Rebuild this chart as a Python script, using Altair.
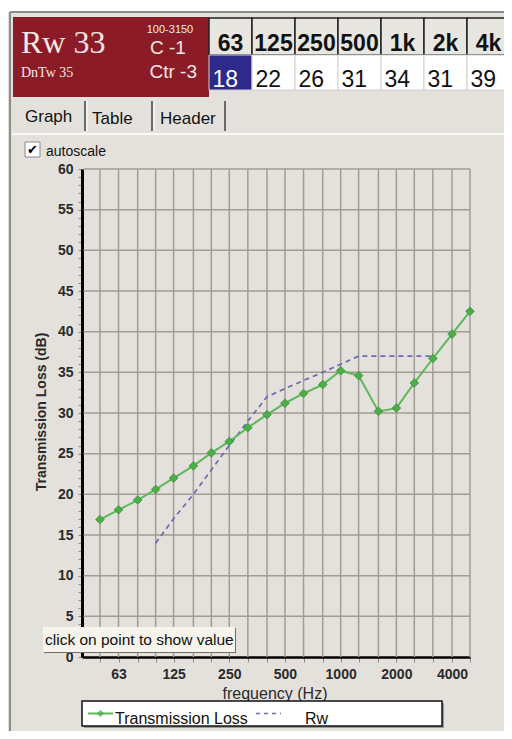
import altair as alt
import pandas as pd

# ---------------- data ----------------
freqs = [50, 63, 80, 100, 125, 160, 200, 250, 315, 400, 500, 630, 800,
         1000, 1250, 1600, 2000, 2500, 3150, 4000, 5000]
tl_values = [16.9, 18.1, 19.3, 20.6, 22.0, 23.5, 25.1, 26.5, 28.2, 29.8, 31.2,
             32.4, 33.5, 35.2, 34.6, 30.2, 30.6, 33.7, 36.7, 39.7, 42.5]
rw_freqs = [100, 125, 160, 200, 250, 315, 400, 500, 630, 800, 1000, 1250,
            1600, 2000, 2500, 3150]
rw_values = [14, 17, 20, 23, 26, 29, 32, 33, 34, 35, 36, 37, 37, 37, 37, 37]
x_tick_labels = [63, 125, 250, 500, 1000, 2000, 4000]
y_grid = [5, 10, 15, 20, 25, 30, 35, 40, 45, 50, 55, 60]
y_minor = list(range(0, 61))
oct_bands = ["63", "125", "250", "500", "1k", "2k", "4k"]
oct_values = [18, 22, 26, 31, 34, 31, 39]
series_names = ["Transmission Loss", "Rw"]

# ---------------- layout constants ----------------
W, H = 388, 488
OX, OY = 82, 169          # page position of plot origin
BG = "#e4e1dc"
SANS = "Liberation Sans"
SERIF = "Liberation Serif"
TL_COLOR = "#5cb85a"
RW_COLOR = "#6a6ab4"

one = pd.DataFrame({"k": [0]})


def box(x1, y1, x2, y2, **kw):
    return alt.Chart(one).mark_rect(**kw).encode(
        x=alt.value(x1 - OX), x2=alt.value(x2 - OX),
        y=alt.value(y1 - OY), y2=alt.value(y2 - OY))


def line(x1, y1, x2, y2, color="#000", width=1, dash=None):
    kw = dict(color=color, strokeWidth=width)
    if dash:
        kw["strokeDash"] = dash
    return alt.Chart(one).mark_rule(**kw).encode(
        x=alt.value(x1 - OX), x2=alt.value(x2 - OX),
        y=alt.value(y1 - OY), y2=alt.value(y2 - OY))


def label(text, x, y, size=14, font=SANS, color="#111", weight="normal",
          align="left", baseline="alphabetic", angle=0):
    kw = dict(text=text, fontSize=size, font=font, color=color,
              fontWeight=weight, align=align, baseline=baseline)
    if angle:
        kw["angle"] = angle
    return alt.Chart(one).mark_text(**kw).encode(
        x=alt.value(x - OX), y=alt.value(y - OY))


# ---------------- decorations ----------------
deco = [
    box(0, 8, 520, 12, color="white"),
    line(10, 12, 512, 12, color="#8c8c8c", width=2),
    line(10, 12, 10, 739, color="#8c8c8c", width=2),
    box(13, 17, 209, 97, color="#8c1b28"),
    label("Rw 33", 21, 53, size=32, font=SERIF, color="#f4e8e4"),
    label("DnTw 35", 21, 77, size=14, font=SERIF, color="#f4e8e4"),
    label("100-3150", 170, 33, size=11, color="#f4e8e4", align="center"),
    label("C -1", 150, 54, size=19, color="#f4e8e4"),
    label("Ctr -3", 197, 78, size=19, color="#f4e8e4", align="right"),
    # tabs
    line(85, 101, 85, 131, color="#6a6a6a", width=2),
    line(152, 101, 152, 131, color="#6a6a6a", width=2),
    line(225, 101, 225, 131, color="#6a6a6a", width=2),
    line(87, 101, 87, 131, color="#ffffff", width=1),
    line(154, 101, 154, 131, color="#ffffff", width=1),
    line(12, 134, 512, 134, color="#ffffff", width=1.5),
    label("Graph", 25, 122, size=17),
    label("Table", 92, 124, size=17),
    label("Header", 160, 124, size=17),
    # checkbox
    box(25, 142, 40, 157, color="white", stroke="#8a8a8a", strokeWidth=1),
    label("✔", 32.5, 150, size=13, font="DejaVu Sans", color="#000",
          align="center", baseline="middle"),
    label("autoscale", 46, 156, size=14),
]

# ---------------- octave table ----------------
tab = pd.DataFrame({"idx": list(range(len(oct_bands))),
                    "band": oct_bands, "val": oct_values})
tscale = alt.Scale(domain=[-0.5, 6.5], range=[127, 428])
tbase = alt.Chart(tab).transform_calculate(lo="datum.idx - 0.5",
                                           hi="datum.idx + 0.5")
head_cells = tbase.mark_rect(fill="#e8e6e1", stroke="#222",
                             strokeWidth=1.5).encode(
    x=alt.X("lo:Q", scale=tscale, axis=None),
    x2="hi:Q", y=alt.value(18 - OY), y2=alt.value(55 - OY))
val_cells = tbase.mark_rect(stroke="#d0d0d0", strokeWidth=1).encode(
    x=alt.X("lo:Q", scale=tscale, axis=None),
    x2="hi:Q", y=alt.value(55 - OY), y2=alt.value(90 - OY),
    fill=alt.condition(alt.datum.idx == 0, alt.value("#2d2a8c"),
                       alt.value("white")))
head_text = alt.Chart(tab).mark_text(font=SANS, fontSize=23, fontWeight="bold",
                                     align="center", color="#111").encode(
    x=alt.X("idx:Q", scale=tscale, axis=None), y=alt.value(44 - OY),
    text="band:N")
val_text = alt.Chart(tab).mark_text(font=SANS, fontSize=23, align="left",
                                    dx=-18).encode(
    x=alt.X("idx:Q", scale=tscale, axis=None), y=alt.value(80 - OY),
    text="val:Q",
    color=alt.condition(alt.datum.idx == 0, alt.value("white"),
                        alt.value("#111")))
table = alt.layer(head_cells, val_cells, head_text, val_text)

# ---------------- main graph ----------------
xscale = alt.Scale(type="log", domain=[40, 5000])
yscale = alt.Scale(domain=[0, 60])
lab_list = ",".join(str(v) for v in x_tick_labels)

x_axis = alt.Axis(values=freqs, labelExpr=(
    f"indexof([{lab_list}], datum.value) >= 0 ? format(datum.value, 'd') : ''"),
    title=None, grid=False, tickSize=5, tickColor="#8a8a8a", tickWidth=1,
    domainColor="#000", domainWidth=2.5, labelFont=SANS, labelFontSize=14,
    labelFontWeight="bold", labelColor="#2a2a2a", labelPadding=5,
    labelOverlap=False, labelFlush=False)
y_axis = alt.Axis(values=y_minor,
                  labelExpr="datum.value % 5 == 0 ? datum.label : ''",
                  title=None, grid=False, tickSize=4, tickColor="#8a8a8a",
                  tickWidth=1, domainColor="#000", domainWidth=3,
                  labelFont=SANS, labelFontSize=14, labelFontWeight="bold",
                  labelColor="#2a2a2a", labelPadding=5, labelOverlap=False,
                  labelFlush=False)

vgrid = alt.Chart(pd.DataFrame({"f": freqs})).mark_rule(
    color="#a29c96", strokeWidth=1.5).encode(
    x=alt.X("f:Q", scale=xscale, axis=x_axis),
    y=alt.value(0), y2=alt.value(H))
hgrid = alt.Chart(pd.DataFrame({"v": y_grid})).mark_rule(
    color="#a29c96", strokeWidth=1.5).encode(
    y=alt.Y("v:Q", scale=yscale, axis=y_axis),
    x=alt.value(1.5), x2=alt.value(W))

tl_df = pd.DataFrame({"f": freqs, "v": tl_values, "s": series_names[0]})
rw_df = pd.DataFrame({"f": rw_freqs, "v": rw_values, "s": series_names[1]})

rw_line = alt.Chart(rw_df).mark_line(color=RW_COLOR, strokeWidth=1.7,
                                     strokeDash=[5, 4]).encode(
    x=alt.X("f:Q", scale=xscale, axis=x_axis),
    y=alt.Y("v:Q", scale=yscale, axis=y_axis))
tl_line = alt.Chart(tl_df).mark_line(
    color=TL_COLOR, strokeWidth=2,
    point=alt.OverlayMarkDef(shape="diamond", size=75, filled=True,
                             color="#4cae47", stroke="#3e8f3a",
                             strokeWidth=0.8)).encode(
    x=alt.X("f:Q", scale=xscale, axis=x_axis),
    y=alt.Y("v:Q", scale=yscale, axis=y_axis))

main = alt.layer(vgrid, hgrid, rw_line, tl_line)

# ---------------- titles, legend, tooltip ----------------
leg_df = pd.DataFrame({"s": series_names})
overlay = [
    label("Transmission Loss (dB)", 42, 412, size=14, weight="bold",
          align="center", baseline="middle", angle=270, color="#2a2a2a"),
    label("frequency (Hz)", 275, 699, size=16, align="center", color="#2a2a2a"),
    box(84, 703, 444, 728, color="#9a9a9a"),
    box(82, 701, 442, 726, fill="white", stroke="#111", strokeWidth=1.5),
    line(88, 713.5, 113, 713.5, color=TL_COLOR, width=2),
    alt.Chart(one).mark_point(shape="diamond", size=55, filled=True,
                              color="#4cae47").encode(
        x=alt.value(100.5 - OX), y=alt.value(713.5 - OY)),
    alt.Chart(leg_df.iloc[[0]]).mark_text(font=SANS, fontSize=16, align="left",
                                         color="#111").encode(
        x=alt.value(115 - OX), y=alt.value(719 - OY), text="s:N"),
    line(256, 713.5, 281, 713.5, color=RW_COLOR, width=1.6, dash=[4, 4]),
    alt.Chart(leg_df.iloc[[1]]).mark_text(font=SANS, fontSize=16, align="left",
                                         color="#111").encode(
        x=alt.value(305 - OX), y=alt.value(719 - OY), text="s:N"),
    # tooltip
    box(44, 628, 236, 653, color="#6e6e6e"),
    box(43, 627, 235, 652, color="#f6f4ec"),
    label("click on point to show value", 45, 645, size=15.5, color="#111"),
]

chart = alt.layer(*deco, table, main, *overlay).resolve_scale(
    x="independent").properties(
    width=W, height=H,
    padding={"left": 74, "top": 161, "right": 34, "bottom": 74},
    autosize=alt.AutoSizeParams(type="none"),
    background=BG,
).configure_view(stroke=None)

chart.save("out.html", embed_options={"renderer": "svg", "actions": False})
